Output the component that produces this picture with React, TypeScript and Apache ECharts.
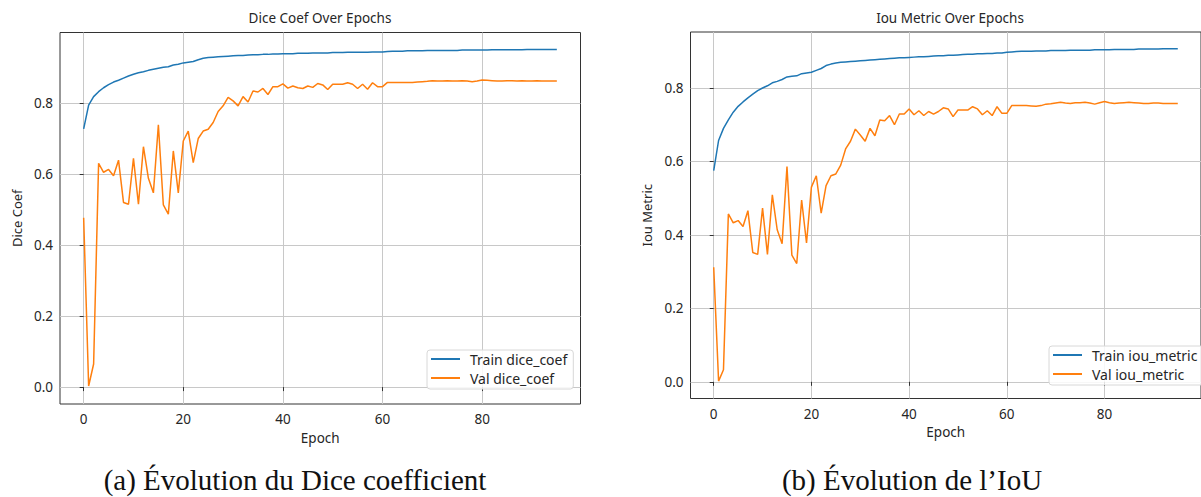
import React, { useEffect, useRef } from "react";
import * as echarts from "echarts";

const epochs: number[] = Array.from({ length: 96 }, (_, i) => i);

const trainDice: number[] = [
  0.727, 0.794, 0.818, 0.832, 0.843, 0.852, 0.859, 0.864, 0.870, 0.876,
  0.881, 0.885, 0.888, 0.892, 0.895, 0.898, 0.901, 0.902, 0.907, 0.909,
  0.913, 0.915, 0.917, 0.922, 0.926, 0.928, 0.929, 0.930, 0.931, 0.932,
  0.933, 0.934, 0.934, 0.935, 0.936, 0.936, 0.937, 0.937, 0.938, 0.938,
  0.939, 0.939, 0.939, 0.940, 0.940, 0.940, 0.941, 0.941, 0.941, 0.941,
  0.942, 0.942, 0.942, 0.943, 0.943, 0.943, 0.943, 0.943, 0.944, 0.944,
  0.944, 0.945, 0.946, 0.946, 0.946, 0.947, 0.947, 0.947, 0.947, 0.948,
  0.948, 0.948, 0.948, 0.948, 0.948, 0.948, 0.949, 0.949, 0.949, 0.949,
  0.949, 0.949, 0.950, 0.950, 0.950, 0.950, 0.950, 0.950, 0.950, 0.951,
  0.951, 0.951, 0.951, 0.951, 0.951, 0.951,
];

const valDice: number[] = [
  0.477, 0.003, 0.065, 0.630, 0.605, 0.613, 0.595, 0.639, 0.520, 0.515,
  0.644, 0.515, 0.677, 0.588, 0.547, 0.739, 0.513, 0.487, 0.665, 0.547,
  0.693, 0.721, 0.632, 0.700, 0.721, 0.726, 0.745, 0.776, 0.792, 0.816,
  0.806, 0.792, 0.818, 0.803, 0.834, 0.831, 0.841, 0.824, 0.846, 0.846,
  0.854, 0.842, 0.848, 0.843, 0.841, 0.848, 0.844, 0.855, 0.851, 0.838,
  0.853, 0.853, 0.853, 0.857, 0.853, 0.841, 0.853, 0.839, 0.857, 0.846,
  0.846, 0.858, 0.858, 0.858, 0.858, 0.858, 0.858, 0.859, 0.860, 0.861,
  0.863, 0.862, 0.862, 0.863, 0.862, 0.862, 0.863, 0.862, 0.860, 0.862,
  0.865, 0.864, 0.863, 0.862, 0.862, 0.863, 0.863, 0.862, 0.863, 0.862,
  0.862, 0.863, 0.862, 0.862, 0.862, 0.862,
];

const trainIou: number[] = [
  0.575, 0.657, 0.690, 0.713, 0.734, 0.750, 0.762, 0.773, 0.783, 0.793,
  0.800, 0.806, 0.814, 0.818, 0.823, 0.830, 0.832, 0.833, 0.839, 0.841,
  0.843, 0.848, 0.853, 0.861, 0.865, 0.868, 0.870, 0.871, 0.872, 0.873,
  0.874, 0.875, 0.876, 0.877, 0.878, 0.879, 0.880, 0.881, 0.882, 0.882,
  0.883, 0.884, 0.885, 0.885, 0.886, 0.887, 0.888, 0.888, 0.889, 0.889,
  0.890, 0.891, 0.892, 0.892, 0.893, 0.893, 0.894, 0.894, 0.895, 0.895,
  0.897, 0.898, 0.899, 0.900, 0.900, 0.900, 0.901, 0.901, 0.901, 0.902,
  0.902, 0.902, 0.902, 0.903, 0.903, 0.903, 0.903, 0.903, 0.904, 0.904,
  0.904, 0.904, 0.905, 0.905, 0.905, 0.905, 0.905, 0.906, 0.906, 0.906,
  0.906, 0.906, 0.907, 0.907, 0.907, 0.907,
];

const valIou: number[] = [
  0.312, 0.002, 0.033, 0.457, 0.433, 0.439, 0.423, 0.466, 0.352, 0.347,
  0.473, 0.347, 0.509, 0.414, 0.376, 0.586, 0.345, 0.322, 0.495, 0.378,
  0.530, 0.561, 0.459, 0.534, 0.561, 0.566, 0.590, 0.634, 0.655, 0.688,
  0.672, 0.655, 0.690, 0.670, 0.713, 0.711, 0.725, 0.700, 0.729, 0.729,
  0.743, 0.727, 0.738, 0.725, 0.736, 0.729, 0.736, 0.746, 0.743, 0.722,
  0.740, 0.740, 0.740, 0.749, 0.743, 0.727, 0.738, 0.725, 0.749, 0.731,
  0.731, 0.752, 0.752, 0.752, 0.752, 0.751, 0.750, 0.752, 0.756, 0.757,
  0.759, 0.761, 0.759, 0.758, 0.760, 0.760, 0.761, 0.759, 0.756, 0.760,
  0.763, 0.760, 0.758, 0.759, 0.760, 0.761, 0.760, 0.759, 0.758, 0.758,
  0.759, 0.759, 0.758, 0.758, 0.758, 0.758,
];

const xTicks: number[] = [0, 20, 40, 60, 80];
const yTicks: number[] = [0, 0.2, 0.4, 0.6, 0.8];

const BLUE = "#1f77b4";
const ORANGE = "#ff7f0e";
const SANS = "Noto Sans";
const SERIF = "Liberation Serif";
const TEXT = "#262626";

function pairs(ys: number[]): number[][] {
  return epochs.map((e, i) => [e, ys[i]]);
}

export default function App() {
  const ref = useRef<HTMLDivElement>(null);
  useEffect(() => {
    if (!ref.current) return;
    const chart = echarts.init(ref.current, undefined, { renderer: "svg" });

    const xAxisBase = (gridIndex: number) => ({
      type: "value",
      gridIndex,
      min: -4.75,
      max: 99.75,
      name: "Epoch",
      nameLocation: "middle",
      nameGap: 26,
      nameTextStyle: { fontFamily: SANS, fontSize: 13.5, color: TEXT },
      axisLine: { show: false },
      axisTick: { show: true, customValues: xTicks, length: 4, lineStyle: { color: "#333" } },
      axisLabel: {
        customValues: xTicks,
        margin: 8,
        fontFamily: SANS,
        fontSize: 13.5,
        color: TEXT,
      },
      splitLine: { show: true, lineStyle: { color: "#c8c8c8", width: 1 } },
    });

    const yAxisBase = (gridIndex: number, name: string, min: number, max: number) => ({
      type: "value",
      gridIndex,
      min,
      max,
      name,
      nameLocation: "middle",
      nameGap: 37,
      nameTextStyle: { fontFamily: SANS, fontSize: 13, color: TEXT },
      axisLine: { show: false },
      axisTick: { show: true, customValues: yTicks, length: 4, lineStyle: { color: "#333" } },
      axisLabel: {
        customValues: yTicks,
        margin: 7,
        fontFamily: SANS,
        fontSize: 13.5,
        color: TEXT,
        formatter: (v: number) => v.toFixed(1),
      },
      splitLine: { show: true, lineStyle: { color: "#c8c8c8", width: 1 } },
    });

    const legendBase = {
      orient: "vertical",
      icon: "rect",
      itemWidth: 29,
      itemHeight: 2,
      itemGap: 5,
      padding: [2, 6, 4, 4],
      borderColor: "#d8d8d8",
      borderWidth: 1,
      borderRadius: 3,
      backgroundColor: "rgba(255,255,255,0.85)",
      textStyle: { fontFamily: SANS, fontSize: 14, color: TEXT, padding: [0, 0, 0, 5] },
    };

    const lineSeries = (name: string, x: number, data: number[], color: string) => ({
      type: "line",
      name,
      xAxisIndex: x,
      yAxisIndex: x,
      data: pairs(data),
      showSymbol: false,
      symbol: "none",
      lineStyle: { color, width: 1.5 },
      itemStyle: { color },
      z: 3,
    });

    chart.setOption({
      animation: false,
      grid: [
        { left: 60, top: 32.5, width: 520.5, height: 371.5, show: true, borderColor: "#333", borderWidth: 1, backgroundColor: "transparent" },
        { left: 690.5, top: 32, width: 520, height: 366.5, show: true, borderColor: "#333", borderWidth: 1, backgroundColor: "transparent" },
      ],
      xAxis: [xAxisBase(0), xAxisBase(1)],
      yAxis: [
        yAxisBase(0, "Dice Coef", -0.0476, 0.9986),
        yAxisBase(1, "Iou Metric", -0.0454, 0.9524),
      ],
      legend: [
        { ...legendBase, data: ["Train dice_coef", "Val dice_coef"], left: 427, top: 350 },
        { ...legendBase, data: ["Train iou_metric", "Val iou_metric"], left: 1049, top: 346 },
      ],
      series: [
        lineSeries("Train dice_coef", 0, trainDice, BLUE),
        lineSeries("Val dice_coef", 0, valDice, ORANGE),
        lineSeries("Train iou_metric", 1, trainIou, BLUE),
        lineSeries("Val iou_metric", 1, valIou, ORANGE),
      ],
      graphic: [
        {
          type: "text",
          x: 320,
          y: 18,
          style: { text: "Dice Coef Over Epochs", fontFamily: SANS, fontSize: 13.5, fill: TEXT, textAlign: "center", textVerticalAlign: "middle" },
        },
        {
          type: "text",
          x: 950,
          y: 18,
          style: { text: "Iou Metric Over Epochs", fontFamily: SANS, fontSize: 13.5, fill: TEXT, textAlign: "center", textVerticalAlign: "middle" },
        },
        {
          type: "text",
          x: 295,
          y: 480,
          style: { text: "(a) Évolution du Dice coefficient", fontFamily: SERIF, fontSize: 29, fill: "#111", textAlign: "center", textVerticalAlign: "middle" },
        },
        {
          type: "text",
          x: 912,
          y: 480,
          style: { text: "(b) Évolution de l’IoU", fontFamily: SERIF, fontSize: 29, fill: "#111", textAlign: "center", textVerticalAlign: "middle" },
        },
      ],
    });

    return () => chart.dispose();
  }, []);

  return (
    <div
      ref={ref}
      style={{ position: "absolute", left: 0, top: 0, width: 1201, height: 497, background: "#fff" }}
    />
  );
}
